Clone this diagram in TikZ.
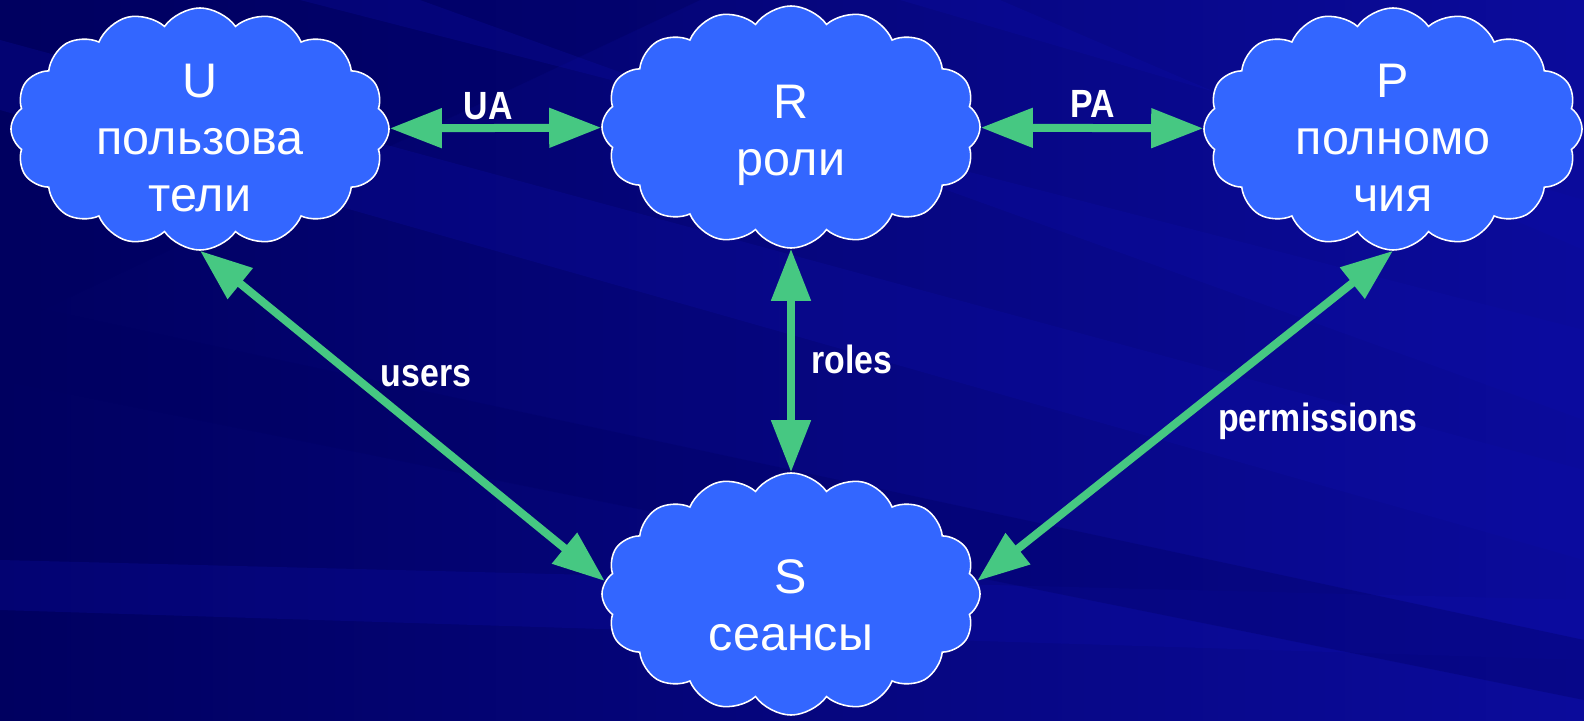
\documentclass[tikz,border=0pt]{standalone}
\usepackage{fontspec}
\setmainfont{Liberation Sans}
\newfontfamily\lblfont[FakeStretch=0.86]{Liberation Sans}
\usetikzlibrary{shapes.symbols,arrows.meta}
\definecolor{bgdark}{RGB}{0,0,96}
\definecolor{bglight}{RGB}{14,14,170}
\definecolor{setblue}{RGB}{51,102,255}
\definecolor{linkgreen}{RGB}{70,200,130}
\tikzset{
	setcloud/.style={cloud,cloud puffs=16,cloud puff arc=110,cloud ignores aspect,draw=white,line width=1.1pt,fill=setblue,minimum width=9.45cm,minimum height=6.05cm,inner sep=0pt},
	settext/.style={text=white,align=center,font=\fontsize{34.5}{40.5}\selectfont},
	link/.style={draw=linkgreen,line width=0.2cm,{Triangle[length=1.3cm,width=0.95cm]}-{Triangle[length=1.3cm,width=0.95cm]}},
	lbl/.style={text=white,font=\lblfont\bfseries\fontsize{28}{32}\selectfont},
	streak/.style={fill=bglight,opacity=0.25}
}

\begin{document}
\begin{tikzpicture}[x=0.025cm,y=-0.025cm]
	% background
	\shade[left color=bgdark,right color=bglight!80!bgdark] (0,0) rectangle (1584,721);
	\fill[bgdark,opacity=0.4] (0,0) -- (700,0) -- (0,330) -- cycle;
	\fill[streak] (0,40) -- (0,110) -- (1584,560) -- (1584,470) -- cycle;
	\fill[streak] (300,0) -- (420,0) -- (1584,420) -- (1584,330) -- cycle;
	\fill[streak] (0,560) -- (0,610) -- (1584,660) -- (1584,600) -- cycle;
	\fill[streak] (900,0) -- (1000,0) -- (1584,250) -- (1584,200) -- cycle;
	\fill[bgdark,opacity=0.3] (0,300) -- (0,380) -- (1584,700) -- (1584,640) -- cycle;
	\useasboundingbox (0,0) rectangle (1584,721);

	\node [setcloud] (U) at (200,129) {};
	\node [setcloud] (R) at (791,127) {};
	\node [setcloud] (P) at (1393,129) {};
	\node [setcloud] (S) at (791,594) {};

	\node [settext,yshift=-0.22cm] (Ut) at (U) {U\\пользова\\тели};
	\node [settext,yshift=-0.22cm] (Rt) at (R) {R\\роли};
	\node [settext,yshift=-0.22cm] (Pt) at (P) {P\\полномо\\чия};
	\node [settext,yshift=-0.28cm] (St) at (S) {S\\сеансы};

	\draw [link] (U) -- (R);
	\draw [link] (R) -- (P);
	\draw [link] (R.south) -- (S.north);
	\draw [link] (U.south) -- (S.176);
	\draw [link] (P.south) -- (S.4);

	\node [lbl] (ua) at (488,106) {UA};
	\node [lbl] (pa) at (1093,104) {PA};
	\node [lbl] (roles) at (852,359) {roles};
	\node [lbl] (users) at (426,376) {users};
	\node [lbl] (perm) at (1318,421) {permissions};
\end{tikzpicture}
\end{document}
